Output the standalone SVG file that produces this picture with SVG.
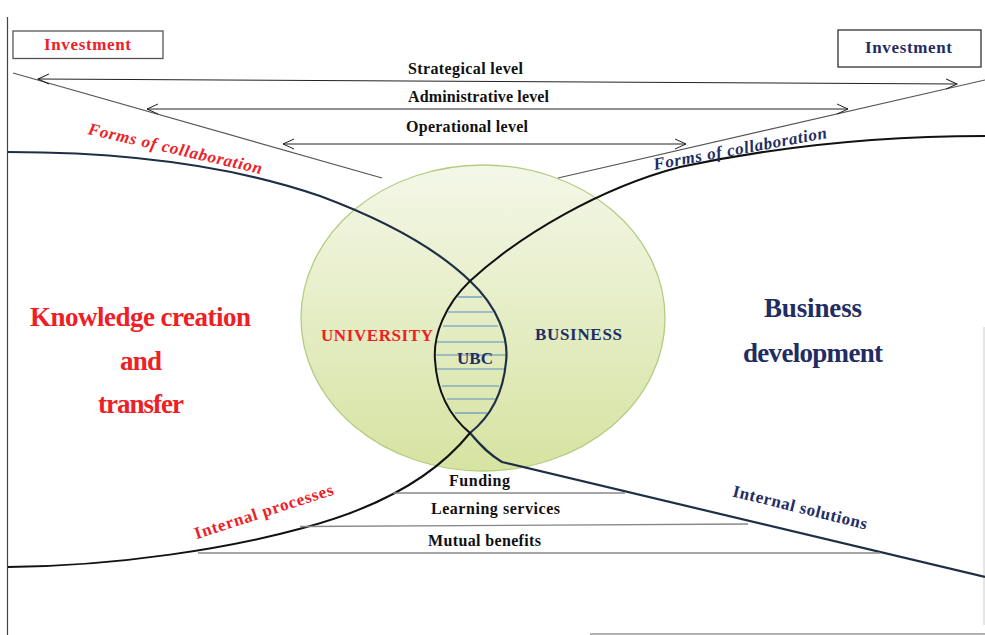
<svg xmlns="http://www.w3.org/2000/svg" width="985" height="635" viewBox="0 0 985 635">
<style>
text{font-family:"Liberation Serif","Times New Roman",serif;font-weight:bold}
.red{fill:#ee2026}
.navy{fill:#1f2d63}
.blk{fill:#111}
.lvl{font-size:16px;text-anchor:middle}
.gray{stroke:#555;stroke-width:1.2;fill:none}
.arr{stroke:#222;stroke-width:1;fill:none;marker-start:url(#ah);marker-end:url(#ah)}
.hatch{stroke:#5b8fc0;stroke-width:1.2}
.shelf{stroke:#888;stroke-width:1.4}
</style>
<defs>
<marker id="ah" markerWidth="14" markerHeight="12" refX="11" refY="6" orient="auto-start-reverse" markerUnits="userSpaceOnUse">
<path d="M0,1 L11,6 L0,11" fill="none" stroke="#222" stroke-width="1"/>
</marker>
<linearGradient id="eg" x1="0" y1="0" x2="0" y2="1">
<stop offset="0" stop-color="#f4f7e8"/>
<stop offset="1" stop-color="#d6e3a1"/>
</linearGradient>
</defs>
<rect x="0" y="0" width="985" height="635" fill="#fff"/>
<line x1="7.5" y1="17" x2="7.5" y2="635" stroke="#444" stroke-width="1.2"/>
<line x1="984" y1="327" x2="984" y2="625" stroke="#ccc" stroke-width="1"/>
<line x1="590" y1="634" x2="985" y2="634" stroke="#999" stroke-width="1.5"/>

<g id="investment-left">
<rect x="13" y="31" width="150" height="27.5" fill="#fff" stroke="#555" stroke-width="1.3"/>
<text x="87.5" y="49.5" class="red" font-size="17" text-anchor="middle" textLength="87" lengthAdjust="spacing">Investment</text>
</g>
<g id="investment-right">
<rect x="838" y="30" width="143" height="37" fill="#fff" stroke="#333" stroke-width="1.3"/>
<text x="908.5" y="52.5" class="navy" font-size="17" text-anchor="middle" textLength="87" lengthAdjust="spacing">Investment</text>
</g>

<g id="venn">
<ellipse cx="483" cy="318" rx="182" ry="153" fill="url(#eg)" stroke="#b2cc80" stroke-width="1.3"/>
</g>

<g id="connectors">
<line x1="13" y1="73" x2="382" y2="178" class="gray"/>
<line x1="558" y1="178" x2="985" y2="80" class="gray"/>
<line x1="38" y1="79" x2="957" y2="84" class="arr"/>
<line x1="147" y1="109" x2="848" y2="109" class="arr"/>
<line x1="283" y1="144" x2="686" y2="144" class="arr"/>
<g id="hatching">
<line x1="458" y1="297" x2="482" y2="297" class="hatch"/>
<line x1="448" y1="312" x2="493" y2="312" class="hatch"/>
<line x1="443" y1="326" x2="498" y2="326" class="hatch"/>
<line x1="437" y1="342" x2="505" y2="342" class="hatch"/>
<line x1="436" y1="355" x2="506" y2="355" class="hatch"/>
<line x1="437" y1="369" x2="505" y2="369" class="hatch"/>
<line x1="442" y1="386" x2="499" y2="386" class="hatch"/>
<line x1="447" y1="399" x2="495" y2="399" class="hatch"/>
<line x1="455" y1="413" x2="487" y2="413" class="hatch"/>
</g>
<path d="M8,152 C120,152 230,165 320,196 C390,222 440,252 470,281 C498,307 509,338 506,362 C503,395 490,417 470,433 C482,447 490,455 502,462 L985,577" fill="none" stroke="#1e2f45" stroke-width="2.2"/>
<path d="M985,136 C860,136 760,150 680,167 C600,188 520,235 470,281 C445,305 433,335 435,360 C437,395 452,418 470,433 C440,470 390,505 303,528 C230,548 120,566 8,567" fill="none" stroke="#111" stroke-width="2"/>
<line x1="393" y1="493" x2="625" y2="493" class="shelf"/>
<line x1="300" y1="526.5" x2="748" y2="524" class="shelf"/>
<line x1="198" y1="553" x2="880" y2="553" class="shelf"/>
</g>

<g id="labels">
<text x="465.5" y="73.5" class="blk lvl" textLength="115" lengthAdjust="spacing">Strategical  level</text>
<text x="478.5" y="101.5" class="blk lvl" textLength="141" lengthAdjust="spacing">Administrative level</text>
<text x="467" y="131.5" class="blk lvl" textLength="122" lengthAdjust="spacing">Operational level</text>
<text transform="translate(174,154) rotate(13)" class="red" font-size="17" font-style="italic" text-anchor="middle" textLength="178" lengthAdjust="spacing">Forms of collaboration</text>
<text transform="translate(741,154) rotate(-10.5)" class="navy" font-size="17" font-style="italic" text-anchor="middle" textLength="176" lengthAdjust="spacing">Forms of collaboration</text>
<text transform="translate(264,512) rotate(-18)" class="red" font-size="17" text-anchor="middle" dy="5" textLength="145" lengthAdjust="spacing">Internal processes</text>
<text transform="translate(800,508) rotate(14)" class="navy" font-size="17" text-anchor="middle" dy="5" textLength="138" lengthAdjust="spacing">Internal solutions</text>
<text x="377" y="341" class="red" font-size="17" text-anchor="middle" textLength="112" lengthAdjust="spacing">UNIVERSITY</text>
<text x="578.5" y="340" class="navy" font-size="17" text-anchor="middle" textLength="87" lengthAdjust="spacing">BUSINESS</text>
<text x="475" y="364" class="navy" font-size="17" text-anchor="middle" textLength="36" lengthAdjust="spacing">UBC</text>
<text x="479.5" y="486" class="blk lvl" textLength="61" lengthAdjust="spacing">Funding</text>
<text x="495.5" y="513.5" class="blk lvl" textLength="129" lengthAdjust="spacing">Learning  services</text>
<text x="484.5" y="546" class="blk lvl" textLength="113" lengthAdjust="spacing">Mutual benefits</text>
</g>

<g id="knowledge">
<text x="140.5" y="325.5" class="red" font-size="27" text-anchor="middle" textLength="221" lengthAdjust="spacing">Knowledge creation</text>
<text x="141" y="370" class="red" font-size="27" text-anchor="middle" textLength="42" lengthAdjust="spacing">and</text>
<text x="141" y="413" class="red" font-size="27" text-anchor="middle" textLength="86" lengthAdjust="spacing">transfer</text>
</g>
<g id="business-dev">
<text x="813" y="317" class="navy" font-size="27" text-anchor="middle" textLength="98" lengthAdjust="spacing">Business</text>
<text x="813" y="362" class="navy" font-size="27" text-anchor="middle" textLength="140" lengthAdjust="spacing">development</text>
</g>
</svg>
